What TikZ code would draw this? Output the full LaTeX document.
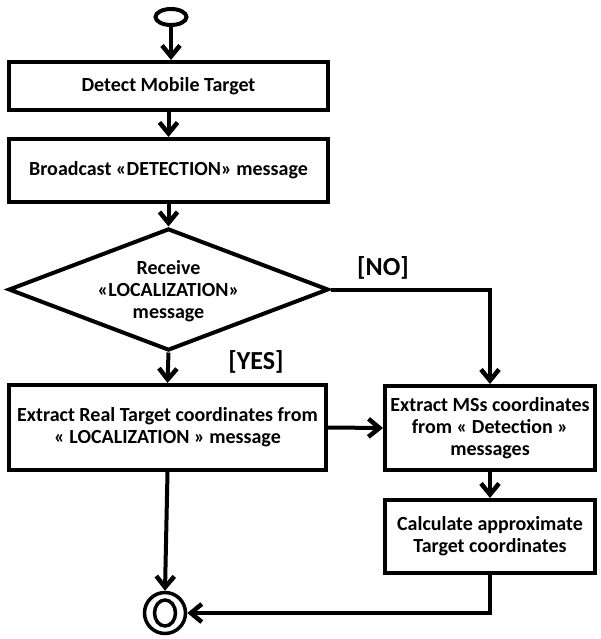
\documentclass[tikz,border=0pt]{standalone}
\usepackage{fontspec}
\setmainfont{Carlito}
\usetikzlibrary{arrows.meta,shapes.geometric}
\tikzset{
  base/.style={draw=black, line width=4pt, font=\bfseries\fontsize{20}{22}\selectfont, align=center, inner sep=0pt},
  boxnode/.style={base, rectangle},
  decnode/.style={base, diamond, aspect=2.62},
  txt/.style={font=\bfseries\fontsize{20}{22}\selectfont, align=center, inner sep=0pt},
  lbl/.style={font=\bfseries\fontsize{26}{28}\selectfont, inner sep=0pt},
  flow/.style={line width=4pt, -{Straight Barb[length=11pt,width=18pt,line width=4.5pt]}},
}
\begin{document}
\begin{tikzpicture}[x=1pt,y=-1pt]
\useasboundingbox (0,0) rectangle (600,639);
\node[base, ellipse, minimum width=31pt, minimum height=16pt] (start) at (171,17) {};
\node[boxnode, minimum width=319pt, minimum height=48pt] (b1) at (168.5,86) {Detect Mobile Target};
\node[boxnode, minimum width=319pt, minimum height=63pt] (b2) at (168.5,170.5) {Broadcast «DETECTION» message};
\node[decnode, minimum width=320pt, minimum height=122pt] (dec) at (168.5,289.5) {};
\node[txt] (dectext) at (168.5,291) {Receive\\«LOCALIZATION»\\message};
\node[boxnode, minimum width=317pt, minimum height=85pt] (b3) at (167.5,427.5) {Extract Real Target coordinates from\\« LOCALIZATION » message};
\node[boxnode, minimum width=210pt, minimum height=84pt] (b4) at (490,428) {Extract MSs coordinates\\from « Detection »\\messages};
\node[boxnode, minimum width=210pt, minimum height=73pt] (b5) at (490,536.5) {Calculate approximate\\Target coordinates};
\node[base, circle, minimum size=41pt, line width=3.5pt] (end) at (165,613) {};
\node[base, ellipse, minimum width=21pt, minimum height=26pt, line width=3.5pt] (endin) at (165,613) {};
\node[lbl] (no) at (383,268) {[NO]};
\node[lbl] (yes) at (256,362) {[YES]};
\draw[flow] (start.south) -- (start.south |- b1.north);
\draw[flow] (b1.south) -- (b2.north);
\draw[flow] (b2.south) -- (dec.north);
\draw[flow] (dec.south) -- (b3.north);
\draw[flow] (dec.east) -| (b4.north);
\draw[flow] (b3.east) -- (b4.west);
\draw[flow] (b4.south) -- (b5.north);
\draw[flow] (b5.south) |- (end.east);
\draw[flow] (b3.south) -- (end.north);
\end{tikzpicture}
\end{document}
